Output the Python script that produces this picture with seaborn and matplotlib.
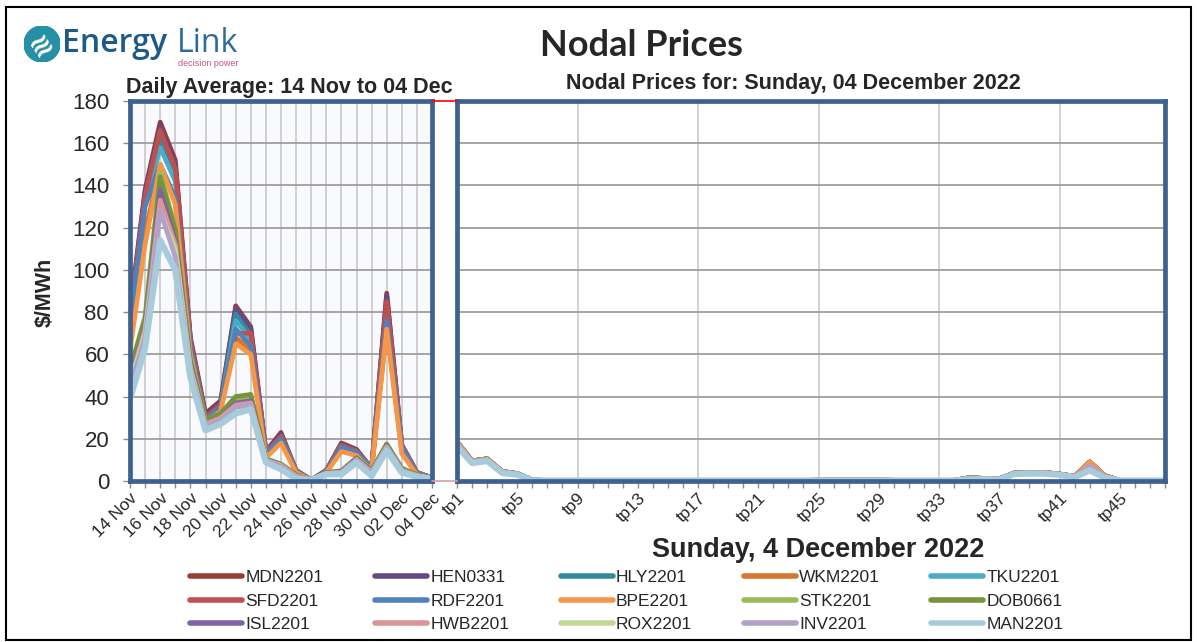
import matplotlib
matplotlib.use('Agg')
import pandas as pd
import matplotlib.pyplot as plt
import seaborn as sns
from matplotlib.lines import Line2D
from matplotlib.patches import Rectangle, Circle

# --- categories ---
days = ['14 Nov', '15 Nov', '16 Nov', '17 Nov', '18 Nov', '19 Nov', '20 Nov',
        '21 Nov', '22 Nov', '23 Nov', '24 Nov', '25 Nov', '26 Nov', '27 Nov',
        '28 Nov', '29 Nov', '30 Nov', '01 Dec', '02 Dec', '03 Dec', '04 Dec']
tps = ['tp' + str(i) for i in range(1, 49)]

nodes = ['MDN2201', 'HEN0331', 'HLY2201', 'WKM2201', 'TKU2201',
         'SFD2201', 'RDF2201', 'BPE2201', 'STK2201', 'DOB0661',
         'ISL2201', 'HWB2201', 'ROX2201', 'INV2201', 'MAN2201']
node_colors = ['#9B3A37', '#654A85', '#35889E', '#D8752C', '#4BACC6',
               '#C0504D', '#4F81BD', '#F79646', '#9BBB59', '#77933C',
               '#8064A2', '#D99694', '#C3D69B', '#B3A2C7', '#A7CBDA']

# --- daily averages ($/MWh), 14 Nov .. 04 Dec ---
mdn = [80, 138, 170, 152, 68, 32, 38, 83, 73, 14, 23, 5, 0.5, 5, 18, 15, 6, 89, 17, 4, 1.5]
hen = [79, 137, 168, 150, 67, 31, 37, 82, 72, 14, 22, 5, 0.5, 5, 17.5, 14.5, 6, 88, 17, 4, 1.5]
hly = [78, 134, 162, 145, 65, 30, 36, 79, 69, 13, 21, 5, 0.5, 4.5, 17, 14, 6, 83, 16, 4, 1.5]
wkm = [68, 118, 149, 133, 62, 28, 34, 68, 62, 12, 19, 4.5, 0.5, 4.5, 15, 13, 5.5, 73, 14, 3.5, 1.5]
tku = [76, 132, 158, 142, 64, 29, 35, 76, 67, 13, 21, 5, 0.5, 4.5, 16.5, 14, 6, 81, 16, 4, 1.5]
sfd = [76, 135, 166, 148, 66, 30, 36, 70, 70, 14, 21, 5, 0.5, 5, 17, 14, 6, 85, 17, 4, 1.5]
rdf = [74, 130, 150, 134, 63, 29, 35, 72, 64, 13, 20, 4.5, 0.5, 4.5, 16, 13.5, 6, 76, 16, 3.5, 1.5]
bpe = [62, 112, 150, 131, 60, 28, 33, 65, 60, 11, 18, 4, 0.5, 4, 14, 12, 5, 72, 13, 3, 1.5]
stk = [53, 78, 146, 120, 58, 29, 32, 39, 40, 10.5, 8, 3, 0.5, 4, 4.8, 11, 5, 17.5, 6, 3, 1.5]
dob = [52, 77, 144, 119, 57, 29, 32, 40, 41, 10.5, 8, 3, 0.5, 4, 4.8, 11, 5, 17.5, 6, 3, 1.5]
isl = [48, 73, 138, 114, 55, 27, 30, 37, 38, 10, 7.5, 2.5, 0.5, 3.8, 4.5, 10.5, 4.5, 16.5, 5.5, 2.5, 1.5]
hwb = [47, 72, 133, 112, 54, 27, 30, 36, 37, 10, 7.5, 2.5, 0.5, 3.6, 4.2, 10.2, 4.2, 16.2, 5.2, 2.5, 1.3]
rox = [46, 70, 128, 110, 53, 26, 29, 35, 36, 9.5, 7, 2, 0.5, 3.5, 4, 10, 4, 16, 5, 2.5, 1.2]
inv = [44, 68, 128, 106, 52, 26, 29, 35, 36, 9.5, 7, 2, 0.5, 3.5, 4, 10, 4, 16, 5, 2.5, 1.2]
man = [39, 63, 114, 100, 49, 24, 27, 32, 34, 8.8, 5.6, 1, 0.5, 3.2, 3.2, 8.8, 2.4, 14.5, 4, 2, 1]
daily = [mdn, hen, hly, wkm, tku, sfd, rdf, bpe, stk, dob, isl, hwb, rox, inv, man]

# --- trading periods, Sunday 04 Dec (nodes overlap almost exactly) ---
tp_high = [18.5, 9.5, 10.5, 4.5, 3.5, 0.5, 0.2, 0.2, 0.2, 0.2, 0.2, 0.2,
           0.2, 0.2, 0.2, 0.2, 0.2, 0.2, 0.2, 0.2, 0.2, 0.2, 0.2, 0.2,
           0.4, 0.4, 0.4, 0.4, 0.4, 0.3, 0.2, 0.2, 0.2, 0.3, 1.5, 1.2,
           1.0, 3.8, 4.0, 4.0, 3.3, 2.2, 9.0, 2.5, 0.3, 0.2, 0.2, 0.2]
tp_low = [17.5, 9.0, 10.0, 4.2, 3.2, 0.4, 0.2, 0.2, 0.2, 0.2, 0.2, 0.2,
          0.2, 0.2, 0.2, 0.2, 0.2, 0.2, 0.2, 0.2, 0.2, 0.2, 0.2, 0.2,
          0.3, 0.3, 0.3, 0.3, 0.3, 0.2, 0.2, 0.2, 0.2, 0.2, 1.0, 0.9,
          0.7, 3.5, 3.7, 3.7, 3.0, 2.0, 7.0, 2.0, 0.2, 0.2, 0.2, 0.2]
tp_man = [16.5, 8.5, 9.5, 3.8, 3.0, 0.3, 0.2, 0.2, 0.2, 0.2, 0.2, 0.2,
          0.2, 0.2, 0.2, 0.2, 0.2, 0.2, 0.2, 0.2, 0.2, 0.2, 0.2, 0.2,
          0.3, 0.3, 0.3, 0.3, 0.3, 0.2, 0.2, 0.2, 0.2, 0.2, 0.8, 0.8,
          0.6, 3.3, 3.5, 3.5, 2.9, 1.8, 5.0, 1.6, 0.2, 0.2, 0.2, 0.2]
tp_group = {'MDN2201': tp_high, 'HEN0331': tp_high, 'HLY2201': tp_high, 'WKM2201': tp_high,
            'TKU2201': tp_high, 'SFD2201': tp_high, 'RDF2201': tp_high, 'BPE2201': tp_high,
            'STK2201': tp_low, 'DOB0661': tp_low, 'ISL2201': tp_low, 'HWB2201': tp_low,
            'ROX2201': tp_low, 'INV2201': tp_low, 'MAN2201': tp_man}

left_rows = []
for n, vals in zip(nodes, daily):
    for i, v in enumerate(vals):
        left_rows.append({'node': n, 'pos': i, 'price': v})
df_left = pd.DataFrame(left_rows)

right_rows = []
for n in nodes:
    for i, v in enumerate(tp_group[n]):
        right_rows.append({'node': n, 'pos': i, 'price': v})
df_right = pd.DataFrame(right_rows)

sns.set_theme(style='white')
plt.rcParams['font.family'] = ['Liberation Sans', 'DejaVu Sans']
plt.rcParams['lines.solid_joinstyle'] = 'round'
plt.rcParams['lines.solid_capstyle'] = 'round'

W, H = 1197, 642
fig = plt.figure(figsize=(W / 100, H / 100), dpi=100)
fig.patch.set_facecolor('white')

def box(x0, y0, x1, y1):
    return [x0 / W, 1 - y1 / H, (x1 - x0) / W, (y1 - y0) / H]

border_col = '#3F6190'
palette = dict(zip(nodes, node_colors))

ax1 = fig.add_axes(box(130, 101, 432, 481))
ax2 = fig.add_axes(box(457, 101, 1165, 481))

sns.lineplot(data=df_left, x='pos', y='price', hue='node', hue_order=nodes,
             palette=palette, linewidth=3.4, estimator=None, sort=False, ax=ax1)
sns.lineplot(data=df_right, x='pos', y='price', hue='node', hue_order=nodes,
             palette=palette, linewidth=3.4, estimator=None, sort=False,
             legend=False, ax=ax2)
handles, labels = ax1.get_legend_handles_labels()
ax1.legend_.remove()
ax1.lines[len(nodes) - 1].set_linewidth(4.5)
ax2.lines[len(nodes) - 1].set_linewidth(4.5)

for ax in (ax1, ax2):
    ax.set_ylim(0, 180)
    ax.set_yticks(range(0, 181, 20))
    ax.set_xlabel('')
    ax.set_ylabel('')
    for sp in ax.spines.values():
        sp.set_color(border_col)
        sp.set_linewidth(3.4)
        sp.set_zorder(5)
    ax.grid(axis='y', color='#9E9E9E', linewidth=1.3)
    ax.tick_params(axis='x', bottom=True, length=5, width=1, color='#8C8C8C',
                   labelsize=12.5, pad=2)

ax1.set_facecolor('#F8FAFD')
ax1.set_xlim(0, len(days) - 1)
ax1.set_xticks(range(len(days)))
ax1.set_xticklabels([d if i % 2 == 0 else '' for i, d in enumerate(days)],
                    rotation=45, ha='right', rotation_mode='anchor')
ax1.grid(axis='x', color='#C4C4C4', linewidth=1.1)
ax1.tick_params(axis='y', left=True, length=5, width=1, color='#8C8C8C',
                labelsize=16, pad=10)

ax2.set_xlim(0, len(tps) - 1)
ax2.set_xticks(range(len(tps)))
ax2.set_xticklabels([t if i % 4 == 0 else '' for i, t in enumerate(tps)],
                    rotation=45, ha='right', rotation_mode='anchor')
ax2.set_yticklabels([])
ax2.tick_params(axis='y', left=False)
for i in range(8, len(tps), 8):
    ax2.axvline(i, color='#C8C8C8', linewidth=1.1, zorder=0)

# small connectors between the two panels
fig.add_artist(Line2D([432 / W, 457 / W], [1 - 101 / H, 1 - 101 / H], color='red', lw=1.2))
fig.add_artist(Line2D([432 / W, 457 / W], [1 - 481 / H, 1 - 481 / H], color='#D9A0A0', lw=1.2))

# texts
fig.text(641 / W, 1 - 45 / H, 'Nodal Prices', ha='center', va='center',
         fontsize=26, fontweight='bold', family=['Lato', 'DejaVu Sans'])
fig.text(289 / W, 1 - 87 / H, 'Daily Average: 14 Nov to 04 Dec', ha='center',
         va='center', fontsize=15.5, fontweight='bold')
fig.text(793 / W, 1 - 83 / H, 'Nodal Prices for: Sunday, 04 December 2022',
         ha='center', va='center', fontsize=15.5, fontweight='bold')
fig.text(45 / W, 1 - 292 / H, '$/MWh', ha='center', va='center', rotation=90,
         fontsize=15.5, fontweight='bold')
fig.text(818 / W, 1 - 550 / H, 'Sunday, 4 December 2022', ha='center',
         va='center', fontsize=19.5, fontweight='bold')

# logo
lax = fig.add_axes(box(24, 26, 60, 62))
lax.set_xlim(-1, 1)
lax.set_ylim(-1, 1)
lax.set_aspect('equal')
lax.axis('off')
lax.add_patch(Circle((0, 0), 1, color='#2590A6'))
lax.text(0, 0, '\u224b', color='white', ha='center', va='center', fontsize=20,
         rotation=35, family='DejaVu Sans', fontweight='bold')
fig.text(62 / W, 1 - 52 / H, 'Energy', ha='left', va='baseline', fontsize=23,
         color='#1D5A8A', family=['Open Sans', 'DejaVu Sans'], fontweight='semibold')
fig.text(177 / W, 1 - 52 / H, 'Link', ha='left', va='baseline', fontsize=23,
         color='#2A6C9C', family=['Open Sans', 'DejaVu Sans'])
fig.text(178 / W, 1 - 59 / H, 'decision power', ha='left', va='top',
         fontsize=6.5, color='#C4577C')

# legend, filled row by row like the original
order = []
for c in range(5):
    for r in range(3):
        order.append(r * 5 + c)
leg = fig.legend([handles[k] for k in order], [labels[k] for k in order],
                 loc='upper left', bbox_to_anchor=(190 / W, 1 - 570 / H),
                 ncol=5, frameon=False, fontsize=12.5, handlelength=3.0,
                 handletextpad=0.2, columnspacing=2.95, labelspacing=0.48,
                 borderaxespad=0, borderpad=0)
for h in leg.legend_handles:
    h.set_linewidth(4)

# outer frame
fig.add_artist(Rectangle((6 / W, 1 - 640 / H), 1185 / W, 633 / H, fill=False,
                         edgecolor='black', linewidth=1.5))

fig.savefig('out.png', dpi=100)
